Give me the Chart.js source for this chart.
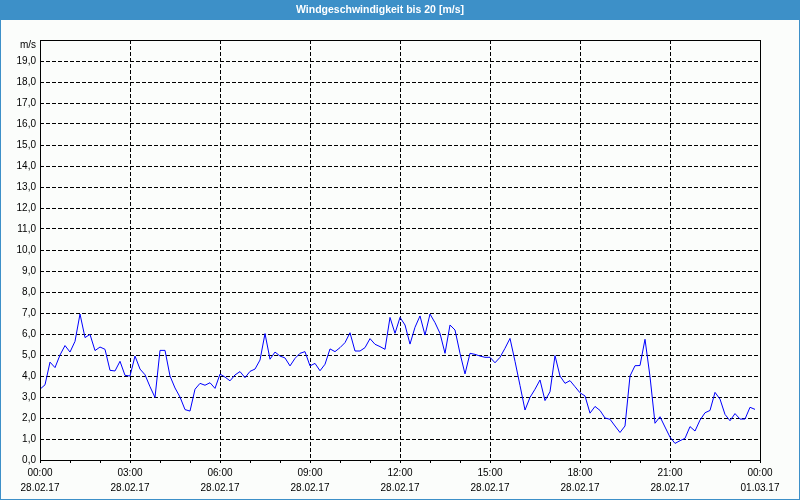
<!DOCTYPE html>
<html>
<head>
<meta charset="utf-8">
<script src="https://cdn.jsdelivr.net/npm/chart.js@4/dist/chart.umd.min.js"></script>
<style>
  html, body { margin: 0; padding: 0; background: #fbfdfb; }
  canvas { display: block; }
</style>
</head>
<body>
<canvas id="c" width="800" height="500"></canvas>
<script>
// ---- data ----
const chartTitle = 'Windgeschwindigkeit bis 20 [m/s]';
const unitLabel = 'm/s';
const stepMinutes = 10;               // one sample every 10 minutes, starting 00:00
const windSpeed = [
  3.37, 3.58, 4.66, 4.40, 5.00, 5.45, 5.14, 5.65, 6.95, 5.83, 5.98, 5.21,
  5.38, 5.27, 4.27, 4.24, 4.70, 4.03, 4.00, 4.95, 4.33, 4.06, 3.49, 2.98,
  5.22, 5.22, 4.00, 3.43, 3.00, 2.40, 2.33, 3.37, 3.65, 3.56, 3.68, 3.41,
  4.09, 3.95, 3.77, 4.05, 4.21, 3.92, 4.22, 4.33, 4.76, 6.02, 4.80, 5.14,
  4.95, 4.86, 4.48, 4.84, 5.08, 5.16, 4.48, 4.60, 4.25, 4.56, 5.29, 5.16,
  5.35, 5.59, 6.06, 5.19, 5.19, 5.35, 5.78, 5.51, 5.40, 5.27, 6.79, 6.03,
  6.79, 6.43, 5.52, 6.32, 6.86, 5.95, 6.95, 6.54, 6.03, 5.08, 6.43, 6.19,
  5.08, 4.10, 5.08, 5.03, 4.95, 4.89, 4.89, 4.63, 4.89, 5.32, 5.79, 4.70,
  3.55, 2.38, 2.98, 3.37, 3.81, 2.83, 3.25, 4.97, 4.00, 3.65, 3.78, 3.49,
  3.20, 3.05, 2.23, 2.55, 2.36, 2.00, 1.94, 1.62, 1.31, 1.62, 4.00, 4.49,
  4.50, 5.75, 3.97, 1.75, 2.06, 1.57, 1.09, 0.79, 0.92, 1.03, 1.59, 1.38,
  1.90, 2.25, 2.36, 3.22, 2.90, 2.17, 1.87, 2.21, 1.95, 1.95, 2.51, 2.41
];
const timeLabels = ['00:00','03:00','06:00','09:00','12:00','15:00','18:00','21:00','00:00'];
const dateLabels = ['28.02.17','28.02.17','28.02.17','28.02.17','28.02.17','28.02.17','28.02.17','28.02.17','01.03.17'];
const xMinMinutes = 0, xMaxMinutes = 1440, majorStep = 180, minorStep = 60;
const yMin = 0, yMax = 20, yStep = 1;

// ---- styles ----
const barBlue = '#3d90c8';
const pageBg = '#fbfdfb';
const fontFam = "'Liberation Sans', Arial, sans-serif";

const points = windSpeed.map((v, i) => ({ x: i * stepMinutes, y: v }));

const decor = {
  id: 'decor',
  beforeDraw(chart) {
    const ctx = chart.ctx;
    ctx.save();
    ctx.fillStyle = pageBg;
    ctx.fillRect(0, 0, chart.width, chart.height);
    ctx.fillStyle = barBlue;
    ctx.fillRect(0, 0, chart.width, 20);
    ctx.restore();
  },
  afterDraw(chart) {
    const ctx = chart.ctx;
    const a = chart.chartArea;
    ctx.save();
    ctx.strokeStyle = '#000';
    ctx.lineWidth = 1;
    ctx.setLineDash([]);
    ctx.strokeRect(Math.round(a.left) + 0.5, Math.round(a.top) + 0.5,
                   Math.round(a.right - a.left), Math.round(a.bottom - a.top));
    ctx.strokeStyle = barBlue;
    ctx.strokeRect(0.5, 0.5, chart.width - 1, chart.height - 1);
    ctx.restore();
  }
};

new Chart(document.getElementById('c'), {
  type: 'line',
  data: {
    datasets: [{
      data: points,
      borderColor: '#0000ff',
      borderWidth: 1,
      pointRadius: 0,
      tension: 0,
      fill: false
    }]
  },
  options: {
    responsive: false,
    animation: false,
    layout: { padding: { left: 0, right: 40, top: 0, bottom: 0 } },
    plugins: {
      legend: { display: false },
      tooltip: { enabled: false },
      title: {
        display: true,
        text: chartTitle,
        color: '#ffffff',
        font: { family: fontFam, size: 10.5, weight: 'bold', lineHeight: 1.2 },
        padding: { top: 4, bottom: 23.4 }
      }
    },
    scales: {
      x: {
        type: 'linear',
        min: xMinMinutes,
        max: xMaxMinutes,
        afterFit(s) { s.height = 40; },
        border: { display: false, dash: [4, 2] },
        grid: {
          color: (c) => (c.tick && c.tick.value % majorStep === 0) ? '#000' : 'rgba(0,0,0,0)',
          tickColor: '#000',
          tickLength: 3,
          tickBorderDash: [],
          lineWidth: 1
        },
        ticks: {
          stepSize: minorStep,
          autoSkip: false,
          maxRotation: 0,
          minRotation: 0,
          padding: 3,
          color: '#000',
          font: { family: fontFam, size: 10, lineHeight: 1.5 },
          callback: (v) => {
            if (v % majorStep !== 0) return '';
            const i = Math.round(v / majorStep);
            return [timeLabels[i], dateLabels[i]];
          }
        }
      },
      y: {
        min: yMin,
        max: yMax,
        afterFit(s) { s.width = 40; },
        border: { display: false, dash: [4, 2] },
        grid: { color: '#000', drawTicks: false, lineWidth: 1 },
        ticks: {
          stepSize: yStep,
          autoSkip: false,
          padding: 4,
          color: '#000',
          font: { family: fontFam, size: 10, lineHeight: 1.0 },
          callback: (v) => v === yMax ? ['', unitLabel] : v.toFixed(1).replace('.', ',')
        }
      }
    }
  },
  plugins: [decor]
});
</script>
</body>
</html>
